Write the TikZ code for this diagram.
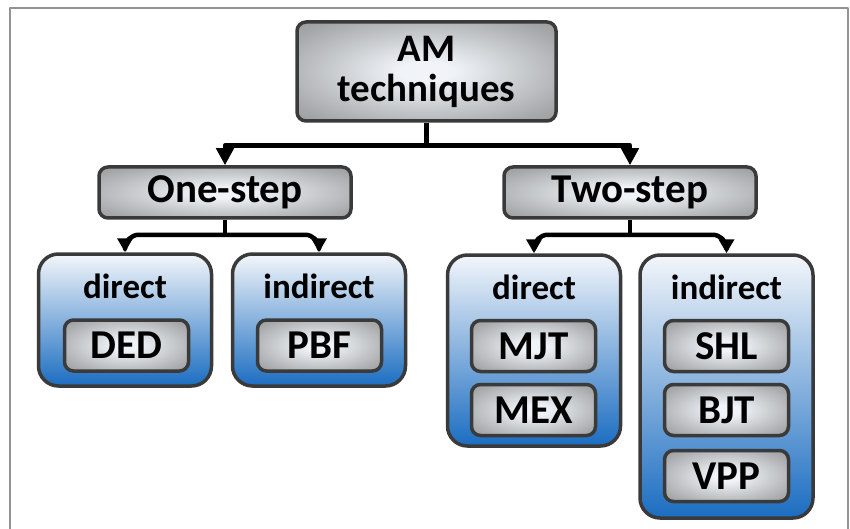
\documentclass[tikz,border=0pt]{standalone}
\usepackage{fontspec}
\setmainfont{Carlito}
\usetikzlibrary{arrows.meta}
\definecolor{edgegray}{HTML}{3A3A3A}
\definecolor{boxin}{HTML}{F0F4F8}
\definecolor{boxmid}{HTML}{A6A8AA}
\definecolor{boxout}{HTML}{7C7C7C}
\definecolor{boxrim}{HTML}{666666}
\definecolor{bluetop}{HTML}{F3F6FA}
\definecolor{bluemid}{HTML}{C3D1E8}
\definecolor{bluebot}{HTML}{1B6DC1}
\pgfdeclareradialshading{glow}{\pgfpoint{0bp}{0bp}}{color(0bp)=(boxin); color(5bp)=(boxin); color(30bp)=(boxmid); color(50bp)=(boxout); color(72bp)=(boxrim)}
\tikzset{
	graybox/.style={draw=edgegray, line width=3.5pt, rounded corners=9pt, shading=glow, inner sep=0pt, align=center},
	bluebox/.style={draw=edgegray, line width=3.5pt, rounded corners=20pt, top color=bluetop, middle color=bluemid, bottom color=bluebot, minimum width=173pt},
	tile/.style={graybox, minimum width=124pt, minimum height=51pt, font=\fontsize{41}{41}\selectfont\bfseries},
	cat/.style={anchor=base, font=\fontsize{35}{35}\selectfont\bfseries},
	stem/.style={line width=4.5pt},
	topleg/.style={line width=4.5pt, -{Triangle[width=17pt,length=17pt]}},
	leg/.style={line width=4.5pt, rounded corners=14pt, -{Triangle[width=15pt,length=14pt]}}
}
\begin{document}
\begin{tikzpicture}[x=1pt,y=1pt, line join=round]
	\useasboundingbox (0,0) rectangle (850,-529);
	\draw[gray!85, line width=2pt] (10,-529) -- (10,-8) -- (848,-8) -- (848,-529); % frame
	% levels 1 and 2
	\node[graybox, minimum width=259pt, minimum height=99pt, font=\fontsize{39}{40}\selectfont\bfseries] (am) at (426.5,-71.5) {AM\\techniques};
	\node[graybox, minimum width=252pt, minimum height=51pt, font=\fontsize{41}{41}\selectfont\bfseries] (one) at (225,-192.5) {One-step};
	\node[graybox, minimum width=252pt, minimum height=51pt, font=\fontsize{41}{41}\selectfont\bfseries] (two) at (630,-192.5) {Two-step};
	% groups
	\node[bluebox, minimum height=132pt] (d1) at (125,-320) {};
	\node[bluebox, minimum height=132pt] (i1) at (319,-320) {};
	\node[bluebox, minimum height=191pt] (d2) at (534,-350.5) {};
	\node[bluebox, minimum height=263pt] (i2) at (726.5,-386.5) {};
	\node[cat] (d1t) at (125,-298) {direct};
	\node[cat] (i1t) at (319,-298) {indirect};
	\node[cat] (d2t) at (534,-299) {direct};
	\node[cat] (i2t) at (726.5,-299) {indirect};
	% techniques
	\node[tile] (ded) at (126.5,-345.5) {DED};
	\node[tile] (pbf) at (319.5,-345.5) {PBF};
	\node[tile] (mjt) at (533.5,-346) {MJT};
	\node[tile] (mex) at (533.5,-410) {MEX};
	\node[tile] (shl) at (726.5,-346) {SHL};
	\node[tile] (bjt) at (726.5,-410) {BJT};
	\node[tile] (vpp) at (726.5,-476) {VPP};
	% connectors
	\draw[stem] (am.south) -- ++(0,-23) coordinate (j0);
	\draw[topleg] (j0) -| (one.north);
	\draw[topleg] (j0) -| (two.north);
	\draw[stem] (one.south) -- ++(0,-15) coordinate (j1);
	\draw[leg] (j1) -| (d1.north);
	\draw[leg] (j1) -| (i1.north);
	\draw[stem] (two.south) -- ++(0,-15) coordinate (j2);
	\draw[leg] (j2) -| (d2.north);
	\draw[leg] (j2) -| (i2.north);
\end{tikzpicture}
\end{document}
